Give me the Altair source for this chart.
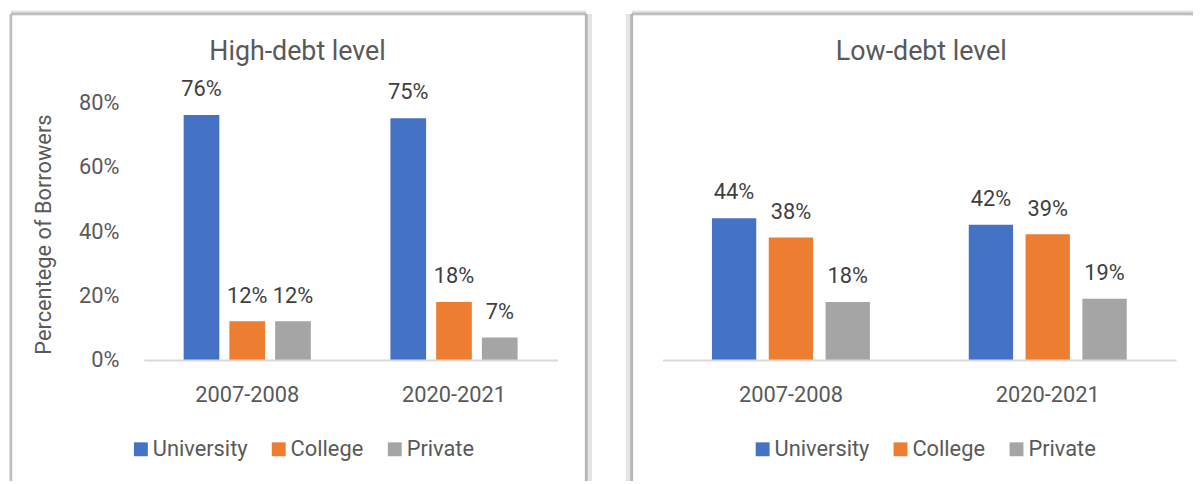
import altair as alt
import pandas as pd

periods = ["2007-2008", "2020-2021"]
institutions = ["University", "College", "Private"]
colors = ["#4472C4", "#ED7D31", "#A5A5A5"]

high_university = [0.76, 0.75]
high_college = [0.12, 0.18]
high_private = [0.12, 0.07]

low_university = [0.44, 0.42]
low_college = [0.38, 0.39]
low_private = [0.18, 0.19]

y_ticks = [0.0, 0.2, 0.4, 0.6, 0.8]

FONT = "Roboto, DejaVu Sans Condensed, sans-serif"
TEXT = "#595959"
LABEL = "#404040"
FS = 22
ONE = pd.DataFrame({"k": [0]})


def frame(u, c, p):
    rows = []
    for inst, vals in zip(institutions, [u, c, p]):
        for per, v in zip(periods, vals):
            rows.append({"period": per, "inst": inst, "value": v})
    return pd.DataFrame(rows)


def hrule(x1, x2, y, color, w):
    return alt.Chart(ONE).mark_rule(color=color, strokeWidth=w).encode(
        x=alt.value(x1), x2=alt.value(x2), y=alt.value(y))


def vrule(x, y1, y2, color, w):
    return alt.Chart(ONE).mark_rule(color=color, strokeWidth=w).encode(
        x=alt.value(x), y=alt.value(y1), y2=alt.value(y2))


def panel(df, title, width, title_x, show_y, rect_l, rect_r, legend_x, edges):
    height = 260
    top, bottom = -89, 382
    bg = alt.Chart(ONE).mark_rect(fill="white", strokeWidth=0).encode(
        x=alt.value(rect_l), x2=alt.value(rect_r), y=alt.value(top), y2=alt.value(bottom)
    )
    layers = [bg]
    layers.append(hrule(rect_l, rect_r, top - 1, "#E4E4E4", 5))
    layers.append(hrule(rect_l, rect_r, top, "#BDBDBD", 3))
    if "left_thin" in edges:
        layers.append(vrule(rect_l, top, bottom, "#BDBDBD", 3))
    if "left_shadow" in edges:
        layers.append(vrule(rect_l - 3, top, bottom, "#E4E4E4", 6))
        layers.append(vrule(rect_l, top, bottom, "#B5B5B5", 3))
    if "right_shadow" in edges:
        layers.append(vrule(rect_r + 3, top, bottom, "#E4E4E4", 6))
        layers.append(vrule(rect_r, top, bottom, "#B5B5B5", 3))
    layers.append(alt.Chart(ONE).mark_rect(fill="white", strokeWidth=0).encode(
        x=alt.value(rect_l + 1.5), x2=alt.value(rect_r - 1.5),
        y=alt.value(top + 1.5), y2=alt.value(bottom)))

    ttl = alt.Chart(ONE).mark_text(
        text=title, font=FONT, fontSize=27, color=TEXT, baseline="middle", align="center"
    ).encode(x=alt.value(title_x), y=alt.value(-51))

    if show_y:
        yaxis = alt.Axis(
            values=y_ticks, format=".0%", grid=False, domain=False, ticks=False,
            labelFont=FONT, labelFontSize=FS, labelColor=TEXT, labelPadding=25,
            title="Percentege of Borrowers", titleFont=FONT, titleFontSize=FS,
            titleFontWeight="normal", titleColor=TEXT, titleAngle=270,
            titleX=-101, titleY=133, titleAlign="center", titleBaseline="middle",
            zindex=2,
        )
    else:
        yaxis = None

    x = alt.X(
        "period:N", sort=periods,
        scale=alt.Scale(paddingInner=0, paddingOuter=0),
        axis=alt.Axis(
            title=None, labelAngle=0, ticks=False, tickSize=0, domainColor="#D9D9D9",
            domainWidth=2, labelPadding=35, labelBaseline="middle",
            labelFont=FONT, labelFontSize=FS, labelColor=TEXT, zindex=2,
        ),
    )
    xo = alt.XOffset("inst:N", sort=institutions, scale=alt.Scale(paddingInner=0.22, paddingOuter=0.87))
    y = alt.Y("value:Q", scale=alt.Scale(domain=[0, 0.8], nice=False, zero=True), axis=yaxis)

    base = alt.Chart(df)
    bars = base.mark_bar().encode(
        x=x, xOffset=xo, y=y,
        color=alt.Color(
            "inst:N", sort=institutions,
            scale=alt.Scale(domain=institutions, range=colors),
            legend=alt.Legend(
                title=None, orient="none", legendX=legend_x, legendY=339,
                direction="horizontal", symbolType="square", symbolSize=196,
                symbolStrokeWidth=0, labelFont=FONT, labelFontSize=FS,
                labelColor=TEXT, labelOffset=1, columnPadding=20, padding=0,
            ),
        ),
    )
    labels = base.mark_text(
        font=FONT, fontSize=FS, color=LABEL, baseline="middle", align="center", dy=-26
    ).encode(x=x, xOffset=xo, y=y, text=alt.Text("value:Q", format=".0%"))

    layers += [ttl, bars, labels]
    return alt.layer(*layers).properties(width=width, height=height)


left = panel(frame(high_university, high_college, high_private), "High-debt level",
             417, 155, True, -134, 446, -14, ["left_thin", "right_shadow"])
right = panel(frame(low_university, low_college, low_private), "Low-debt level",
              518, 261, False, -31, 535, 90, ["left_shadow"])

chart = (
    alt.hconcat(left, right, spacing=34)
    .resolve_scale(color="independent", xOffset="independent")
    .resolve_legend(color="independent")
    .properties(padding={"left": 0, "top": 0, "right": 0, "bottom": 0}, background="white")
    .configure_view(stroke=None)
    .configure_axis(zindex=2)
)

chart.save("out.html", embed_options={"renderer": "svg", "actions": False})
